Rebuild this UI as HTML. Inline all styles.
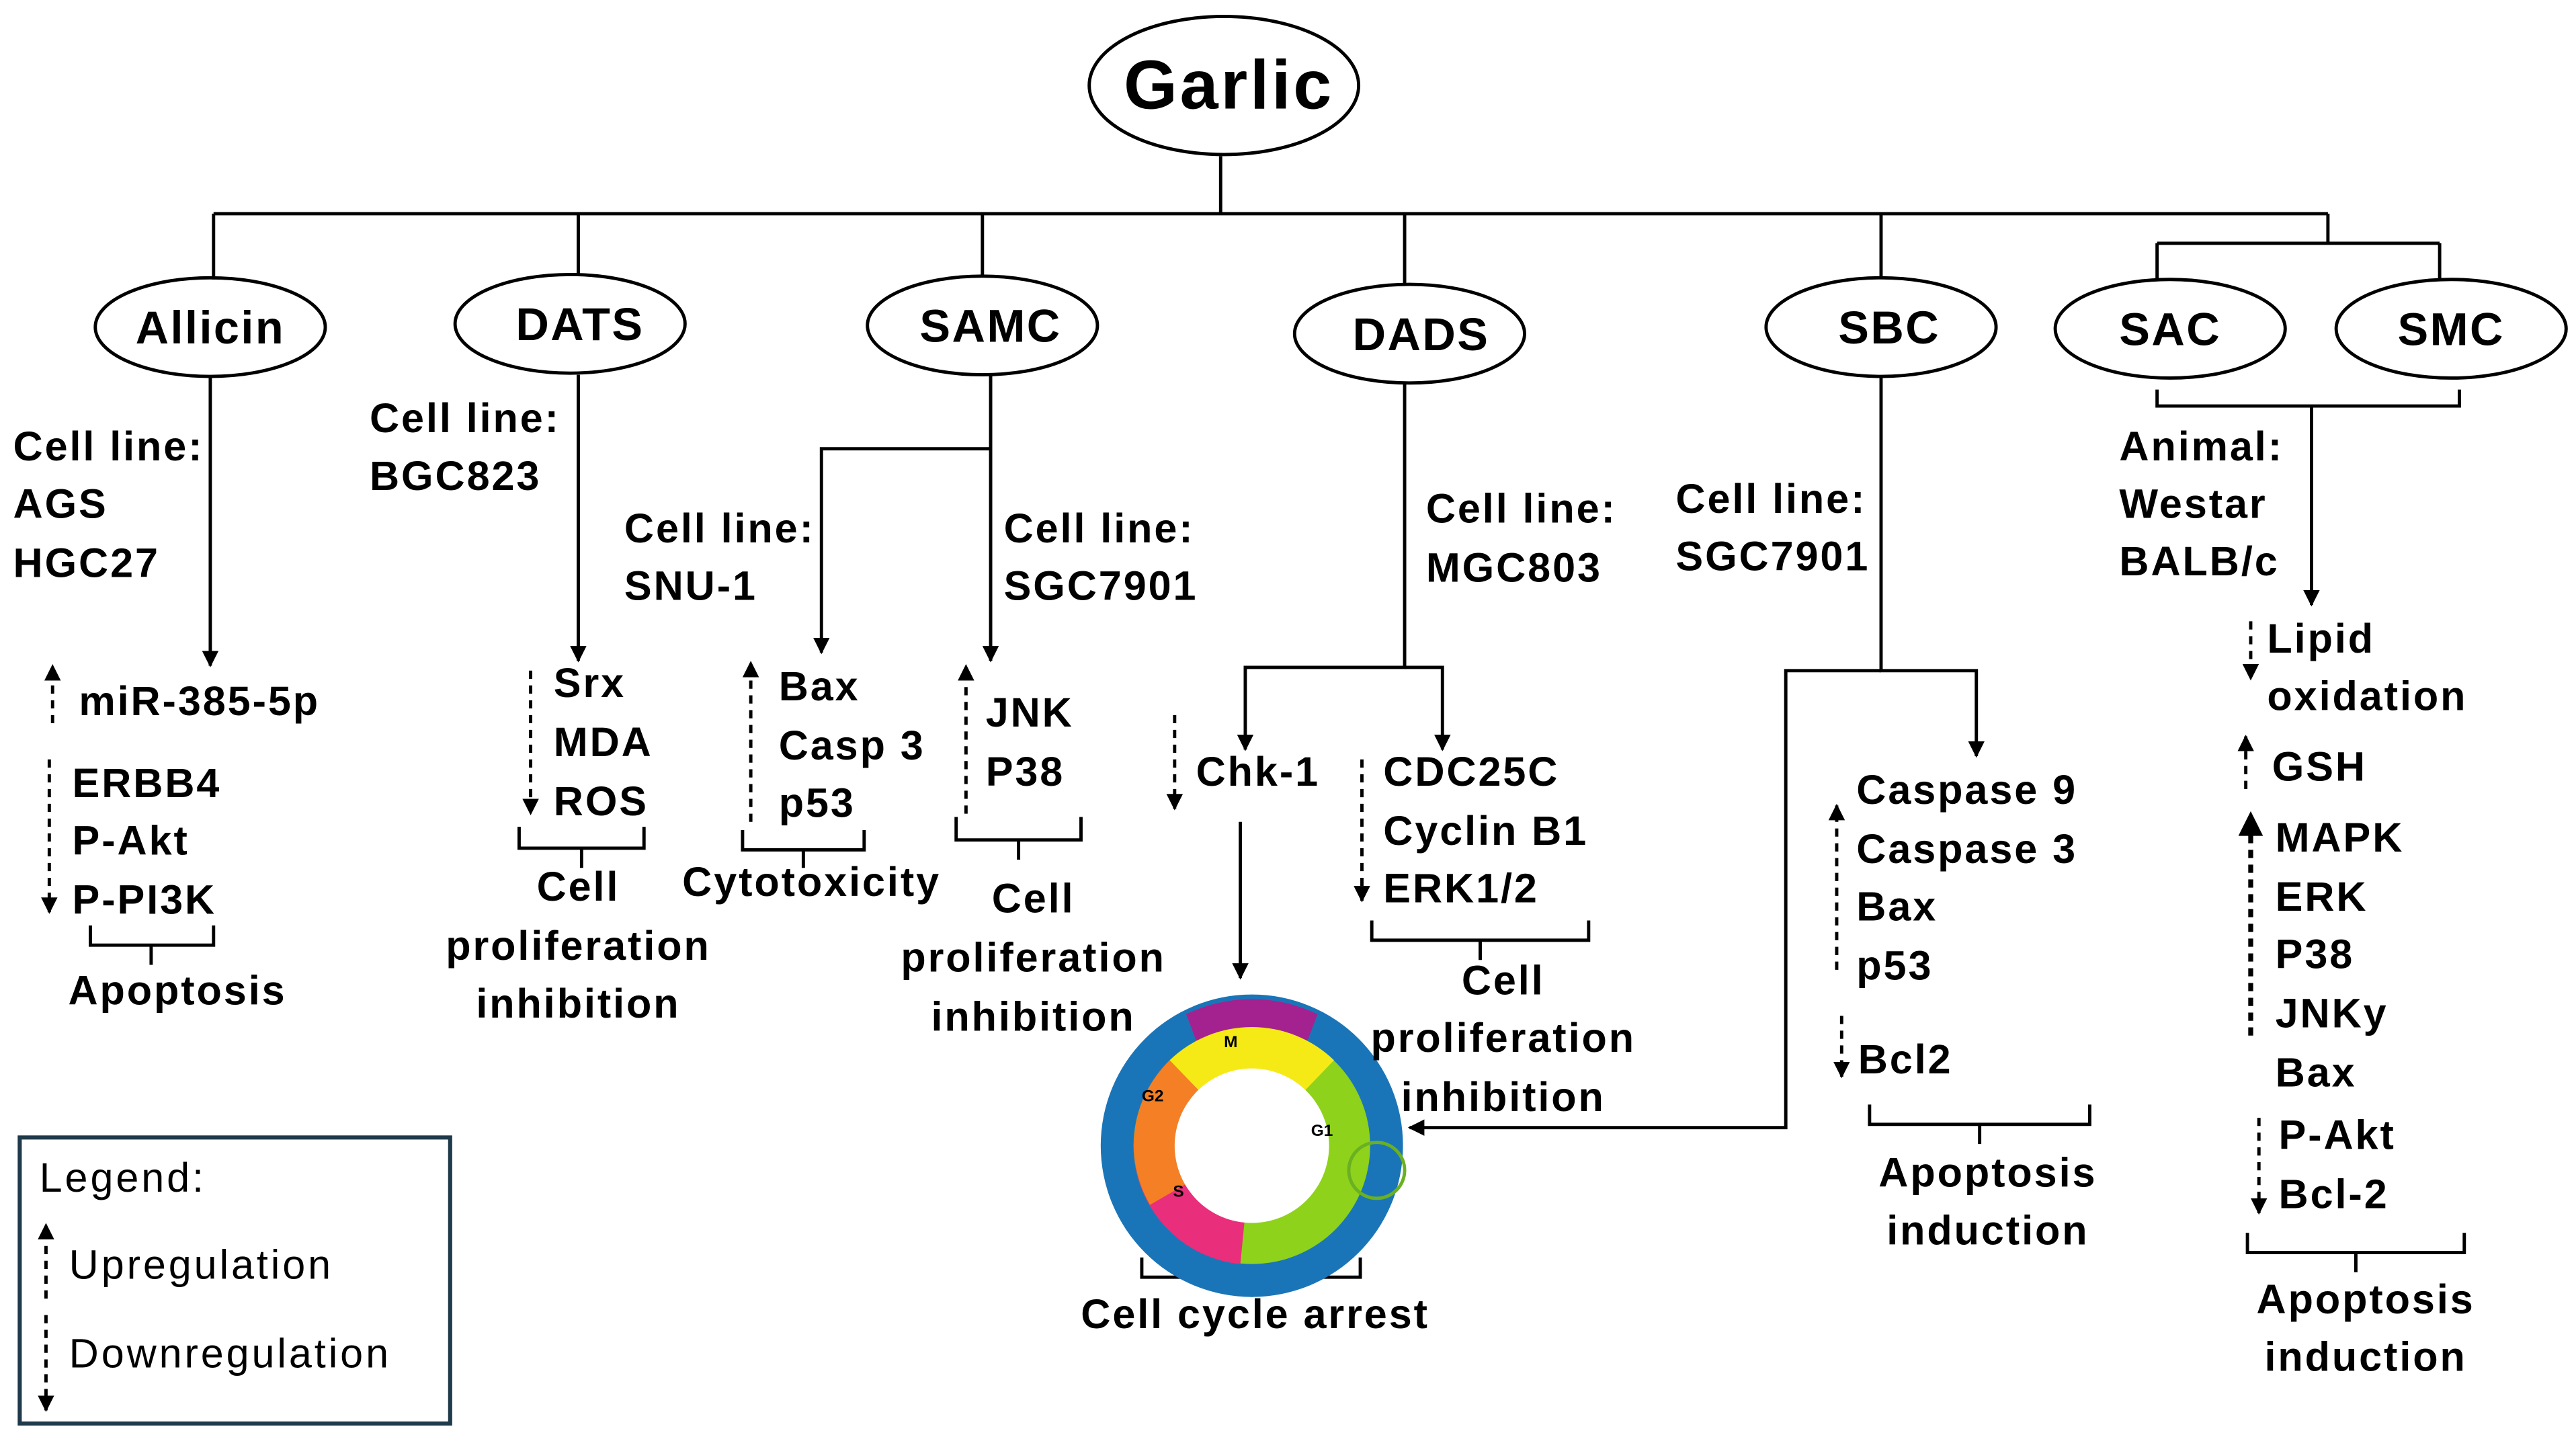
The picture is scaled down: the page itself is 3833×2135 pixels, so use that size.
<!DOCTYPE html>
<html><head><meta charset="utf-8">
<style>
html,body{margin:0;padding:0;background:#fff;}
svg{display:block;}
text{font-family:"Liberation Sans",Arial,sans-serif;fill:#000;}
.b{font-weight:bold;font-size:25px;letter-spacing:1.2px;}
.e{font-weight:bold;font-size:28px;letter-spacing:1px;}
.c{text-anchor:middle;}
.l{font-size:25px;letter-spacing:1.6px;}
</style></head><body>
<svg width="3833" height="2135" viewBox="0 0 1568 873" preserveAspectRatio="none" xmlns="http://www.w3.org/2000/svg">
<defs>
<marker id="a" viewBox="0 0 10 10" refX="9" refY="5" markerWidth="5" markerHeight="5" orient="auto"><path d="M0,0L10,5L0,10z" fill="#000"/></marker>
<marker id="A" viewBox="0 0 10 10" refX="9" refY="5" markerWidth="8" markerHeight="5" orient="auto"><path d="M0,0L10,5L0,10z" fill="#000"/></marker>
</defs>
<g stroke="#000" stroke-width="2" fill="none">
<ellipse cx="745" cy="52" rx="82" ry="42"/>
<path d="M743 95V130M130 130H1417M130 130V170M352 130V168M598 130V168M855 130V173M1145 130V169M1417 130V148M1313 148H1485M1313 148V170M1485 148V170"/>
<ellipse cx="128" cy="199" rx="70" ry="30"/>
<ellipse cx="347" cy="197" rx="70" ry="30"/>
<ellipse cx="598" cy="198" rx="70" ry="30"/>
<ellipse cx="858" cy="203" rx="70" ry="30"/>
<ellipse cx="1145" cy="199" rx="70" ry="30"/>
<ellipse cx="1321" cy="200" rx="70" ry="30"/>
<ellipse cx="1492" cy="200" rx="70" ry="30"/>
<path d="M128 229V405" marker-end="url(#a)"/>
<path d="M352 228V402" marker-end="url(#a)"/>
<path d="M603 228V402" marker-end="url(#a)"/>
<path d="M603 273H500V397" marker-end="url(#a)"/>
<path d="M855 233V406H758V456" marker-end="url(#a)"/>
<path d="M855 406H878V456" marker-end="url(#a)"/>
<path d="M755 500V595" marker-end="url(#a)"/>
<path d="M1145 229V408H1203V460" marker-end="url(#a)"/>
<path d="M1145 408H1087V686H858" marker-end="url(#a)"/>
<path d="M1313 237V247H1497V237M1407 247V368" marker-end="url(#a)"/>
<g stroke-dasharray="5,4">
<path d="M32 440V405" marker-end="url(#a)"/>
<path d="M30 462V555" marker-end="url(#A)"/>
<path d="M323 408V495" marker-end="url(#A)"/>
<path d="M457 500V403" marker-end="url(#A)"/>
<path d="M588 495V405" marker-end="url(#A)"/>
<path d="M715 435V492" marker-end="url(#A)"/>
<path d="M829 462V548" marker-end="url(#A)"/>
<path d="M1118 590V490" marker-end="url(#A)"/>
<path d="M1121 618V655" marker-end="url(#a)"/>
<path d="M1370 378V413" marker-end="url(#a)"/>
<path d="M1367 480V448" marker-end="url(#a)"/>
<path d="M1370 630V495" stroke-width="3" marker-end="url(#A)"/>
<path d="M1375 680V738" marker-end="url(#A)"/>
<path d="M28 790V745" marker-end="url(#a)"/>
<path d="M28 800V858" marker-end="url(#a)"/>
</g>
<path d="M55 563V575H130V563M92 575V587"/>
<path d="M316 503V516H392V503M354 516V528"/>
<path d="M452 505V517H526V505M489 517V528"/>
<path d="M582 497V511H658V497M620 511V523"/>
<path d="M835 560V572H967V560M901 572V584"/>
<path d="M695 765V777H828V765M762 777V789"/>
<path d="M1138 672V684H1272V672M1205 684V696"/>
<path d="M1368 750V762H1500V750M1434 762V774"/>
</g>
<circle cx="762" cy="697" r="92" fill="#1a75b8"/>
<path d="M722 617A92 92 0 0 1 802 617L789 651A72 72 0 0 0 735 651z" fill="#a3228f"/>
<circle cx="762" cy="697" r="72" fill="#8ed21b"/>
<path d="M762 697L700 661A72 72 0 0 0 755 769z" fill="#e92e7b"/>
<path d="M762 697L712 645A72 72 0 0 1 812 645z" fill="#f5ea16"/>
<path d="M762 697L712 645A72 72 0 0 0 700 733z" fill="#f47f24"/>
<circle cx="762" cy="697" r="47" fill="#fff"/>
<circle cx="838" cy="712" r="17" fill="none" stroke="#6ab023" stroke-width="2"/>
<text x="745" y="637" style="font-size:10px;font-weight:bold">M</text>
<text x="695" y="670" style="font-size:10px;font-weight:bold">G2</text>
<text x="714" y="728" style="font-size:10px;font-weight:bold">S</text>
<text x="798" y="691" style="font-size:10px;font-weight:bold">G1</text>
<text x="748" y="66" class="c" style="font-weight:bold;font-size:42px;letter-spacing:1.5px">Garlic</text>
<text x="128" y="209" class="e c">Allicin</text>
<text x="353" y="207" class="e c">DATS</text>
<text x="603" y="208" class="e c">SAMC</text>
<text x="865" y="213" class="e c">DADS</text>
<text x="1150" y="209" class="e c">SBC</text>
<text x="1321" y="210" class="e c">SAC</text>
<text x="1492" y="210" class="e c">SMC</text>
<text x="8" y="280" class="b">Cell line:</text><text x="8" y="315" class="b">AGS</text><text x="8" y="351" class="b">HGC27</text>
<text x="48" y="435" class="b">miR-385-5p</text>
<text x="44" y="485" class="b">ERBB4</text><text x="44" y="520" class="b">P-Akt</text><text x="44" y="556" class="b">P-PI3K</text>
<text x="108" y="611" class="b c">Apoptosis</text>
<text x="225" y="263" class="b">Cell line:</text><text x="225" y="298" class="b">BGC823</text>
<text x="337" y="424" class="b">Srx</text><text x="337" y="460" class="b">MDA</text><text x="337" y="496" class="b">ROS</text>
<text x="352" y="548" class="b c">Cell</text><text x="352" y="584" class="b c">proliferation</text><text x="352" y="619" class="b c">inhibition</text>
<text x="380" y="330" class="b">Cell line:</text><text x="380" y="365" class="b">SNU-1</text>
<text x="611" y="330" class="b">Cell line:</text><text x="611" y="365" class="b">SGC7901</text>
<text x="474" y="426" class="b">Bax</text><text x="474" y="462" class="b">Casp 3</text><text x="474" y="497" class="b">p53</text>
<text x="494" y="545" class="b c">Cytotoxicity</text>
<text x="600" y="442" class="b">JNK</text><text x="600" y="478" class="b">P38</text>
<text x="629" y="555" class="b c">Cell</text><text x="629" y="591" class="b c">proliferation</text><text x="629" y="627" class="b c">inhibition</text>
<text x="868" y="318" class="b">Cell line:</text><text x="868" y="354" class="b">MGC803</text>
<text x="728" y="478" class="b">Chk-1</text>
<text x="842" y="478" class="b">CDC25C</text><text x="842" y="514" class="b">Cyclin B1</text><text x="842" y="549" class="b">ERK1/2</text>
<text x="915" y="605" class="b c">Cell</text><text x="915" y="640" class="b c">proliferation</text><text x="915" y="676" class="b c">inhibition</text>
<text x="764" y="808" class="b c">Cell cycle arrest</text>
<text x="1020" y="312" class="b">Cell line:</text><text x="1020" y="347" class="b">SGC7901</text>
<text x="1130" y="489" class="b">Caspase 9</text><text x="1130" y="525" class="b">Caspase 3</text><text x="1130" y="560" class="b">Bax</text><text x="1130" y="596" class="b">p53</text>
<text x="1131" y="653" class="b">Bcl2</text>
<text x="1210" y="722" class="b c">Apoptosis</text><text x="1210" y="757" class="b c">induction</text>
<text x="1290" y="280" class="b">Animal:</text><text x="1290" y="315" class="b">Westar</text><text x="1290" y="350" class="b">BALB/c</text>
<text x="1380" y="397" class="b">Lipid</text><text x="1380" y="432" class="b">oxidation</text>
<text x="1383" y="475" class="b">GSH</text>
<text x="1385" y="518" class="b">MAPK</text><text x="1385" y="554" class="b">ERK</text><text x="1385" y="589" class="b">P38</text><text x="1385" y="625" class="b">JNKy</text><text x="1385" y="661" class="b">Bax</text>
<text x="1387" y="699" class="b">P-Akt</text><text x="1387" y="735" class="b">Bcl-2</text>
<text x="1440" y="799" class="b c">Apoptosis</text><text x="1440" y="834" class="b c">induction</text>
<rect x="12" y="692" width="262" height="174" fill="none" stroke="#1f3a4a" stroke-width="2.5"/>
<text x="24" y="725" class="l">Legend:</text>
<text x="42" y="778" class="l">Upregulation</text>
<text x="42" y="832" class="l">Downregulation</text>
</svg>
</body></html>
